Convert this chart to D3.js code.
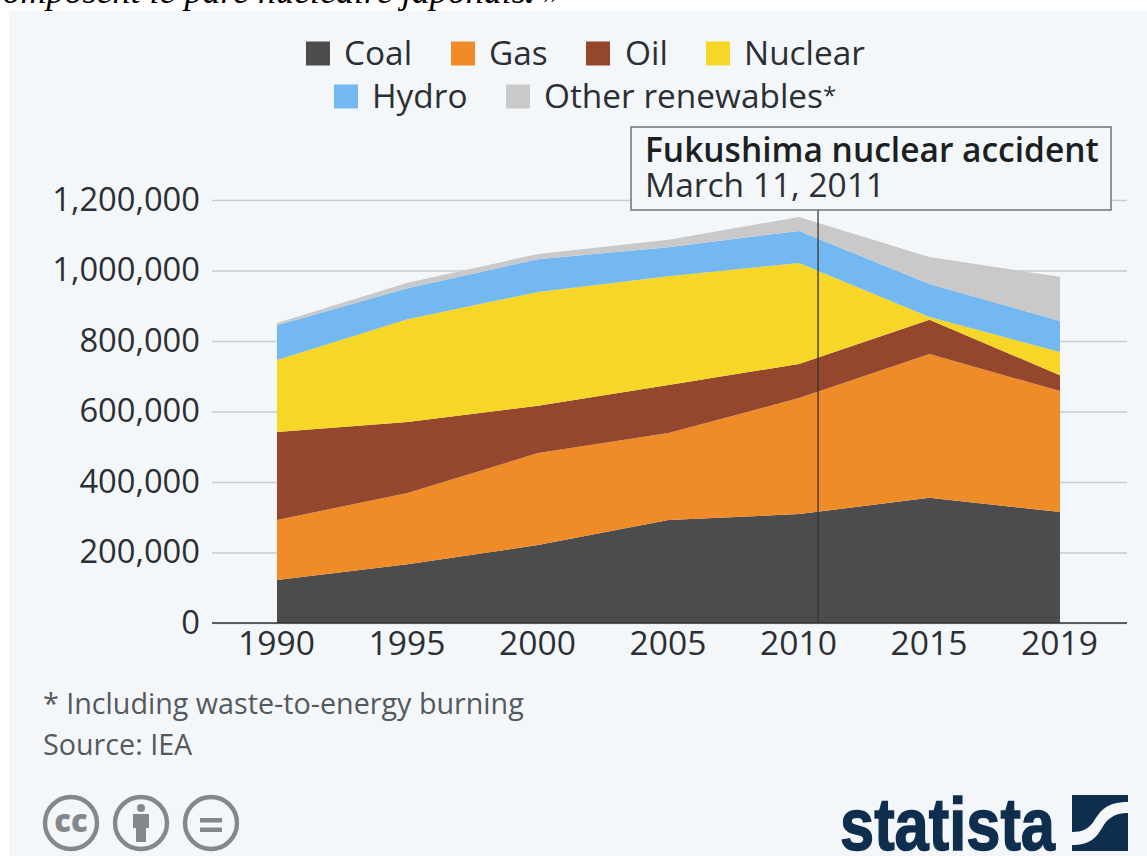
<!DOCTYPE html>
<html>
<head>
<meta charset="utf-8">
<script src="https://cdn.jsdelivr.net/npm/d3@7"></script>
<style>
html, body { margin: 0; padding: 0; background: #fff; overflow: hidden; }
svg { display: block; font-family: "Open Sans", sans-serif; }
</style>
</head>
<body>
<svg id="chart" width="1147" height="856"></svg>
<script>
const years = ['1990', '1995', '2000', '2005', '2010', '2015', '2019'];
const coal = [122000, 167000, 221000, 292000, 309000, 355000, 315000];
const gas = [170000, 202000, 261000, 247000, 329000, 408000, 343000];
const oil = [250000, 201000, 134000, 136000, 97000, 97000, 45000];
const nuclear = [204000, 292000, 323000, 309000, 286000, 8000, 66000];
const hydro = [99000, 88000, 93000, 82000, 91000, 94000, 88000];
const otherRenewables = [6000, 15000, 15000, 21000, 40000, 76000, 125000];

const seriesNames = ['Coal', 'Gas', 'Oil', 'Nuclear', 'Hydro', 'Other renewables*'];
const seriesValues = [coal, gas, oil, nuclear, hydro, otherRenewables];
const seriesColors = ['#4c4c4d', '#f08c28', '#94472c', '#f6d727', '#74b8f2', '#c9c9c9'];
const yTicks = [0, 200000, 400000, 600000, 800000, 1000000, 1200000];

// accident falls a bit after the 2010 point, position
const accidentIndex = 4.146;

const svg = d3.select('#chart');

// page text cut off above the graphic
const pageText = svg.append('text')
    .attr('x', -13.5)
    .attr('y', 3)
    .style('font-family', '"Liberation Serif", serif')
    .style('font-style', 'italic')
    .style('font-size', '36px')
    .attr('fill', '#000');
pageText.append('tspan').text('composent le parc nucléaire japonais');
pageText.append('tspan').style('font-weight', 700).text('.');
pageText.append('tspan').text(' »');

svg.append('rect')
    .attr('x', 9).attr('y', 11)
    .attr('width', 1138).attr('height', 845)
    .attr('fill', '#f4f7fa');

const x = d3.scaleLinear().domain([0, years.length - 1]).range([277, 1060]);
const y = d3.scaleLinear().domain([0, 1200000]).range([623, 200]);

const rows = years.map((year, i) => {
    const row = {index: i};
    seriesNames.forEach((name, s) => { row[name] = seriesValues[s][i]; });
    return row;
});
const stacked = d3.stack().keys(seriesNames)(rows);

const yAxis = d3.axisLeft(y)
    .tickValues(yTicks)
    .tickSize(0)
    .tickPadding(12)
    .tickFormat(d3.format(','));

svg.append('g')
    .attr('class', 'y-axis')
    .attr('transform', 'translate(212,0)')
    .call(yAxis)
    .call(g => g.select('.domain').remove())
    .call(g => g.selectAll('.tick line')
        .attr('x2', 915)
        .attr('stroke', '#c8cdd2')
        .attr('stroke-width', 1.5))
    .call(g => g.selectAll('text')
        .style('font-family', '"Open Sans", sans-serif')
        .style('font-size', '32.7px')
        .attr('fill', '#2b2f33'));

const area = d3.area()
    .x(d => x(d.data.index))
    .y0(d => y(d[0]))
    .y1(d => y(d[1]));

svg.selectAll('.layer')
    .data(stacked)
    .join('path')
    .attr('class', 'layer')
    .attr('fill', (d, i) => seriesColors[i])
    .attr('d', area);

const xAxis = d3.axisBottom(x)
    .tickValues(d3.range(years.length))
    .tickSize(0)
    .tickPadding(8)
    .tickFormat(i => years[i]);

svg.append('g')
    .attr('class', 'x-axis')
    .attr('transform', 'translate(-1,623)')
    .call(xAxis)
    .call(g => g.select('.domain').remove())
    .call(g => g.selectAll('text')
        .style('font-family', '"Open Sans", sans-serif')
        .style('font-size', '33.6px')
        .attr('fill', '#2b2f33'));

svg.append('line')
    .attr('x1', 212).attr('x2', 1127)
    .attr('y1', y(0)).attr('y2', y(0))
    .attr('stroke', '#2f3337')
    .attr('stroke-width', 1.5);

// Fukushima marker and label box
svg.append('line')
    .attr('x1', x(accidentIndex)).attr('x2', x(accidentIndex))
    .attr('y1', 210).attr('y2', y(0))
    .attr('stroke', '#333')
    .attr('stroke-opacity', 0.85)
    .attr('stroke-width', 1.5);

svg.append('rect')
    .attr('x', 631).attr('y', 127)
    .attr('width', 480).attr('height', 83)
    .attr('fill', '#f4f7fa')
    .attr('stroke', '#6f7478')
    .attr('stroke-width', 1.5);

svg.append('text')
    .attr('x', 645).attr('y', 162)
    .style('font-size', '33.5px')
    .style('font-weight', 600)
    .attr('fill', '#1c1f22')
    .text('Fukushima nuclear accident');

svg.append('text')
    .attr('x', 645).attr('y', 197)
    .style('font-size', '33.5px')
    .attr('fill', '#2b2f33')
    .text('March 11, 2011');

// legend, two centred rows
const legendRows = [
    {y: 54, items: [[0, 306, 344], [1, 451, 489], [2, 586, 625], [3, 706, 744]]},
    {y: 97, items: [[4, 334, 372], [5, 506, 544]]}
];
legendRows.forEach(row => {
    row.items.forEach(([s, boxX, textX]) => {
        svg.append('rect')
            .attr('x', boxX).attr('y', row.y - 12.5)
            .attr('width', 24).attr('height', 24)
            .attr('fill', seriesColors[s]);
        const label = svg.append('text')
            .attr('x', textX).attr('y', row.y + 11)
            .style('font-size', '33.4px')
            .attr('fill', '#2b2f33');
        label.append('tspan').text(seriesNames[s].replace('*', ''));
        // the footnote star is set smaller than the label
        if (seriesNames[s].endsWith('*')) {
            label.append('tspan')
                .attr('dy', -4)
                .style('font-size', '24px')
                .text('*');
        }
    });
});

// footer
svg.append('text')
    .attr('x', 43).attr('y', 714)
    .style('font-size', '28.7px')
    .attr('fill', '#54595e')
    .text('* Including waste-to-energy burning');
svg.append('text')
    .attr('x', 43).attr('y', 755)
    .style('font-size', '28.7px')
    .attr('fill', '#54595e')
    .text('Source: IEA');

// licence badges
const badgeX = [71, 141, 211];
const badges = svg.append('g').attr('fill', 'none').attr('stroke', '#85888b').attr('stroke-width', 4.4);
badgeX.forEach(cx => badges.append('circle').attr('cx', cx).attr('cy', 823).attr('r', 26));
svg.append('text')
    .attr('x', badgeX[0]).attr('y', 832)
    .attr('text-anchor', 'middle')
    .style('font-size', '31px')
    .style('font-weight', 800)
    .attr('fill', '#85888b')
    .text('cc');
svg.append('circle').attr('cx', badgeX[1]).attr('cy', 808).attr('r', 4).attr('fill', '#85888b');
svg.append('path')
    .attr('d', `M${badgeX[1] - 8},814 h16 v14 h-3 v14 h-10 v-14 h-3 z`)
    .attr('fill', '#85888b');
[818, 827.5].forEach(ly => svg.append('rect')
    .attr('x', badgeX[2] - 11).attr('y', ly)
    .attr('width', 22).attr('height', 4.5)
    .attr('fill', '#85888b'));

// statista logo
svg.append('text')
    .attr('x', 840).attr('y', 850)
    .attr('textLength', 215)
    .attr('lengthAdjust', 'spacingAndGlyphs')
    .style('font-family', '"Liberation Sans", sans-serif')
    .style('font-size', '75px')
    .style('font-weight', 700)
    .attr('fill', '#0f2e4e')
    .attr('stroke', '#0f2e4e')
    .attr('stroke-width', 1.5)
    .text('statista');
svg.append('path')
    .attr('d', 'M1072,795 H1128 V802 C1105,802 1100,812 1094,821 C1089,829 1082,832 1072,832 Z')
    .attr('fill', '#0f2e4e');
svg.append('path')
    .attr('d', 'M1128,813 V851 H1072 V845 C1090,845 1096,838 1102,828 C1107,819 1114,813 1128,813 Z')
    .attr('fill', '#0f2e4e');
</script>
</body>
</html>
